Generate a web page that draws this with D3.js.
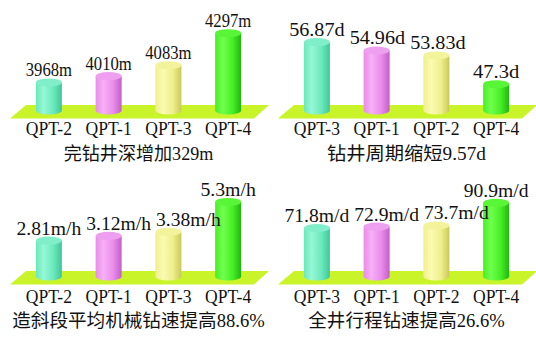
<!DOCTYPE html>
<html>
<head>
<meta charset="utf-8">
<script src="https://cdn.jsdelivr.net/npm/d3@7"></script>
<style>
  html, body { margin: 0; padding: 0; background: #fff; }
  svg { display: block; }
</style>
</head>
<body>
<svg id="chart" width="536" height="337"></svg>
<script>
// Four drilling indicators, one small 3D-cylinder chart each
const panelTitles = ["完钻井深增加329m", "钻井周期缩短9.57d", "造斜段平均机械钻速提高88.6%", "全井行程钻速提高26.6%"];

const depthWells = ["QPT-2", "QPT-1", "QPT-3", "QPT-4"];
const depthValues = [3968, 4010, 4083, 4297];

const cycleWells = ["QPT-3", "QPT-1", "QPT-2", "QPT-4"];
const cycleValues = [56.87, 54.96, 53.83, 47.3];

const buildRopWells = ["QPT-2", "QPT-1", "QPT-3", "QPT-4"];
const buildRopValues = [2.81, 3.12, 3.38, 5.3];

const tripRopWells = ["QPT-3", "QPT-1", "QPT-2", "QPT-4"];
const tripRopValues = [71.8, 72.9, 73.7, 90.9];

const units = ["m", "d", "m/h", "m/d"];
// hidden value axes (min, max) of each panel
const axisDomains = [[3780, 4315], [41.3, 59.5], [0.5, 5.65], [35, 95.7]];

const panels = [
  { wells: depthWells, values: depthValues },
  { wells: cycleWells, values: cycleValues },
  { wells: buildRopWells, values: buildRopValues },
  { wells: tripRopWells, values: tripRopValues }
];

// colour per bar position: [side light, side mid, side dark, top]
const palette = [
  ["#96f7d6", "#6ae9bb", "#3fc59a", "#80efc9"],
  ["#f6b0f6", "#e98ce9", "#c35ec8", "#ef9fef"],
  ["#fbfbb2", "#efef8c", "#c9c95a", "#f3f39c"],
  ["#70ff4e", "#47ee25", "#22b512", "#58f636"]
];
const floorColor = "#c9f42a";

const FS = 18.5;          // text size
const latinFont = "'Liberation Serif', 'Noto Sans CJK SC', serif";

const svg = d3.select("#chart");
const defs = svg.append("defs");

palette.forEach((c, i) => {
  const g = defs.append("linearGradient").attr("id", "cyl" + i)
    .attr("x1", "0%").attr("x2", "100%").attr("y1", "0%").attr("y2", "0%");
  g.append("stop").attr("offset", "0%").attr("stop-color", c[1]);
  g.append("stop").attr("offset", "30%").attr("stop-color", c[0]);
  g.append("stop").attr("offset", "68%").attr("stop-color", c[1]);
  g.append("stop").attr("offset", "100%").attr("stop-color", c[2]);
});

// width of a string set in half-width Latin / full-width CJK cells
function cellWidth(s, size) {
  let w = 0;
  for (const ch of s) w += ch.charCodeAt(0) > 0x2e80 ? size : size / 2;
  return w;
}

const R = 13, RY = 4;

panels.forEach((p, i) => {
  const ox = (i % 2) * 268;
  const row = Math.floor(i / 2);
  const oy = row * 166;
  const textShift = row * 1.5;
  const g = svg.append("g").attr("transform", `translate(${ox},${oy})`);

  const x = d3.scalePoint().domain(p.wells).range([19, 258]).padding(0.5);
  const base = 110.5;
  const y = d3.scaleLinear().domain(axisDomains[i]).range([base, base - 80]);

  // floor slab
  g.append("path")
    .attr("d", `M26,105 L269,105 L254,118.5 L10,118.5 Z`)
    .attr("fill", floorColor);

  // cylinders
  p.wells.forEach((w, j) => {
    const cx = x(w);
    const yt = y(p.values[j]);
    const cg = g.append("g");
    cg.append("path")
      .attr("d", `M${cx - R},${yt} L${cx - R},${base} A${R},${RY} 0 0 0 ${cx + R},${base} L${cx + R},${yt} Z`)
      .attr("fill", `url(#cyl${j})`);
    cg.append("ellipse")
      .attr("cx", cx).attr("cy", yt).attr("rx", R).attr("ry", RY)
      .attr("fill", palette[j][3]);
  });

  // value labels, nudged right where two would collide
  const labels = p.wells.map((w, j) => {
    const txt = String(p.values[j]) + units[i];
    const wd = cellWidth(txt, FS);
    return { txt, wd, x0: x(w) - wd / 2, yb: y(p.values[j]) - RY - 2 };
  });
  for (let j = 1; j < labels.length; j++) {
    const a = labels[j - 1], b = labels[j];
    if (Math.abs(a.yb - b.yb) < 14 && b.x0 < a.x0 + a.wd + 5) b.x0 = a.x0 + a.wd + 5;
  }
  labels.forEach(l => {
    g.append("text")
      .attr("x", l.x0).attr("y", l.yb)
      .attr("textLength", l.wd).attr("lengthAdjust", "spacingAndGlyphs")
      .attr("font-family", latinFont).attr("font-size", FS).attr("fill", "#111")
      .text(l.txt);
  });

  // well names
  p.wells.forEach(w => {
    const wd = cellWidth(w, FS);
    g.append("text")
      .attr("x", x(w) - wd / 2).attr("y", 135 + textShift)
      .attr("textLength", wd).attr("lengthAdjust", "spacingAndGlyphs")
      .attr("font-family", latinFont).attr("font-size", FS).attr("fill", "#111")
      .text(w);
  });

  // panel caption
  const tw = cellWidth(panelTitles[i], 18.7);
  g.append("text")
    .attr("x", 138.5 - tw / 2).attr("y", 159.5 + textShift)
    .attr("textLength", tw).attr("lengthAdjust", "spacingAndGlyphs")
    .attr("font-family", latinFont).attr("font-size", 18.7).attr("fill", "#111")
    .text(panelTitles[i]);
});
</script>
</body>
</html>
